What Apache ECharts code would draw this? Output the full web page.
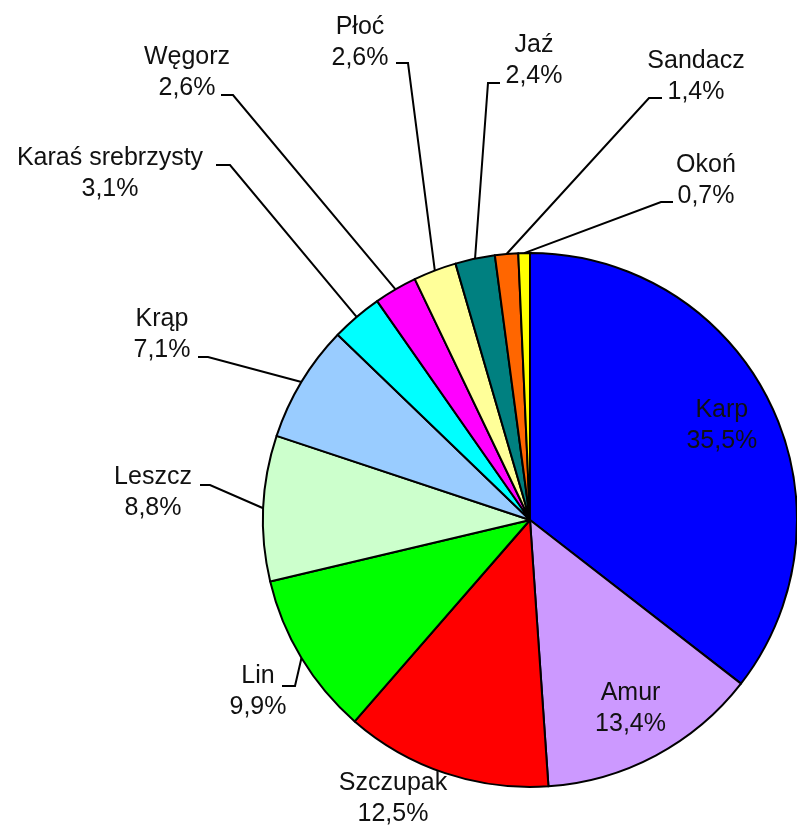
<!DOCTYPE html>
<html>
<head>
<meta charset="utf-8">
<script src="https://cdn.jsdelivr.net/npm/echarts@6/dist/echarts.min.js"></script>
<style>
  html, body { margin: 0; padding: 0; background: #fff; }
  #chart { width: 797px; height: 829px; }
</style>
</head>
<body>
<div id="chart"></div>
<script>
// udział gatunków (%), zgodnie z ruchem wskazówek zegara od góry
const species = ['Karp', 'Amur', 'Szczupak', 'Lin', 'Leszcz', 'Krąp', 'Karaś srebrzysty', 'Węgorz', 'Płoć', 'Jaź', 'Sandacz', 'Okoń'];
const shares = [35.5, 13.4, 12.5, 9.9, 8.8, 7.1, 3.1, 2.6, 2.6, 2.4, 1.4, 0.7];
const colors = ['#0000ff', '#cc99ff', '#ff0000', '#00ff00', '#ccffcc', '#99ccff', '#00ffff', '#ff00ff', '#ffff99', '#008080', '#ff6600', '#ffff00'];

const CX = 530, CY = 520, R = 267;

// rozmieszczenie podpisów: [środek x, środek y, zagięcie x, zagięcie y, koniec x] (null = w środku wycinka)
const labelPlace = [
  null,
  null,
  [393, 799],
  [258, 692, 295, 686, 282],
  [153, 493, 210, 485, 200],
  [162, 335, 208, 357, 198],
  [110, 174, 230, 165, 216],
  [187, 73, 233, 95, 221],
  [360, 43, 408, 63, 396],
  [534, 61, 488, 83, 500],
  [696, 77, 649, 98, 662],
  [706, 181, 661, 202, 673]
];

const chart = echarts.init(document.getElementById('chart'));

const option = {
  animation: false,
  backgroundColor: '#fff',
  series: [{
    type: 'pie',
    center: [CX, CY],
    radius: R,
    startAngle: 90,
    clockwise: true,
    avoidLabelOverlap: false,
    silent: true,
    itemStyle: { borderColor: '#000', borderWidth: 2 },
    label: {
      show: true,
      position: 'outside',
      color: '#111',
      fontFamily: 'Liberation Sans, Arial, sans-serif',
      fontSize: 25,
      lineHeight: 31,
      align: 'center',
      formatter: p => p.name + '\n' + p.value.toFixed(1).replace('.', ',') + '%'
    },
    labelLine: {
      show: true,
      lineStyle: { color: '#000', width: 2 }
    },
    labelLayout: params => {
      const i = params.dataIndex;
      const place = labelPlace[i];
      const rim = params.labelLinePoints ? params.labelLinePoints[0] : [CX, CY];
      if (!place) {
        // podpis wewnątrz wycinka, ok. 0.8 promienia
        return {
          x: CX + (rim[0] - CX) * 0.8,
          y: CY + (rim[1] - CY) * 0.8,
          align: 'center',
          verticalAlign: 'middle'
        };
      }
      const out = { x: place[0], y: place[1], align: 'center', verticalAlign: 'middle' };
      if (place.length > 2) {
        out.labelLinePoints = [rim, [place[2], place[3]], [place[4], place[3]]];
      }
      return out;
    },
    data: species.map((name, i) => ({
      name: name,
      value: shares[i],
      itemStyle: { color: colors[i] },
      labelLine: { show: labelPlace[i] !== null && labelPlace[i].length > 2 }
    }))
  }]
};

chart.setOption(option);
</script>
</body>
</html>
